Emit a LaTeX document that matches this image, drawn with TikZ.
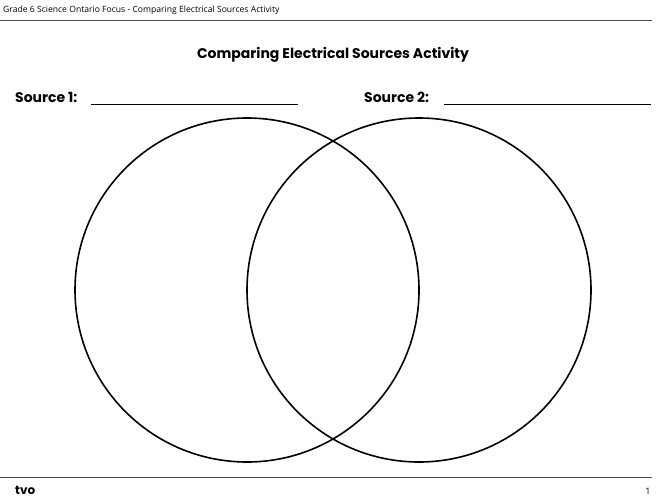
\documentclass[tikz,border=0pt]{standalone}
\usepackage{fontspec}
\setmainfont{Open Sans}
\newfontfamily\pop{Poppins}
\begin{document}
\begin{tikzpicture}[x=1pt,y=-1pt,
  circ/.style={draw=black,line width=1.6pt},
  rule/.style={draw=black,line width=0.9pt},
  hdr/.style={anchor=west,inner sep=0,font=\fontsize{8.6}{9}\selectfont},
  lab/.style={anchor=west,inner sep=0,font=\pop\bfseries\fontsize{14}{16}\selectfont}]
\useasboundingbox (0,0) rectangle (660,500);
\node[hdr] (h) at (3,10) {Grade 6 Science Ontario Focus - Comparing Electrical Sources Activity};
\draw[draw=black!70,line width=0.5pt] (0,20) -- (652,20);
\node[inner sep=0,font=\pop\bfseries\fontsize{14}{16}\selectfont] (t) at (333,55) {Comparing Electrical Sources Activity};
\node[lab] (s1) at (15,97) {Source 1:};
\coordinate (a1) at (91,104); \coordinate (b1) at (298,104);
\draw[rule] (a1) -- (b1);
\node[lab] (s2) at (364,97) {Source 2:};
\coordinate (a2) at (444,104); \coordinate (b2) at (651,104);
\draw[rule] (a2) -- (b2);
\node[circ,circle,minimum size=344pt,inner sep=0] (c1) at (247,290) {};
\node[circ,circle,minimum size=344pt,inner sep=0] (c2) at (419,290) {};
\draw[draw=black!70,line width=0.5pt] (0,477) -- (652,477);
\node[anchor=west,inner sep=0,font=\pop\bfseries\fontsize{12}{14}\selectfont] (tvo) at (15,490) {tvo};
\node[inner sep=0,font=\fontsize{9}{10}\selectfont] (pg) at (648,491) {1};
\end{tikzpicture}
\end{document}
